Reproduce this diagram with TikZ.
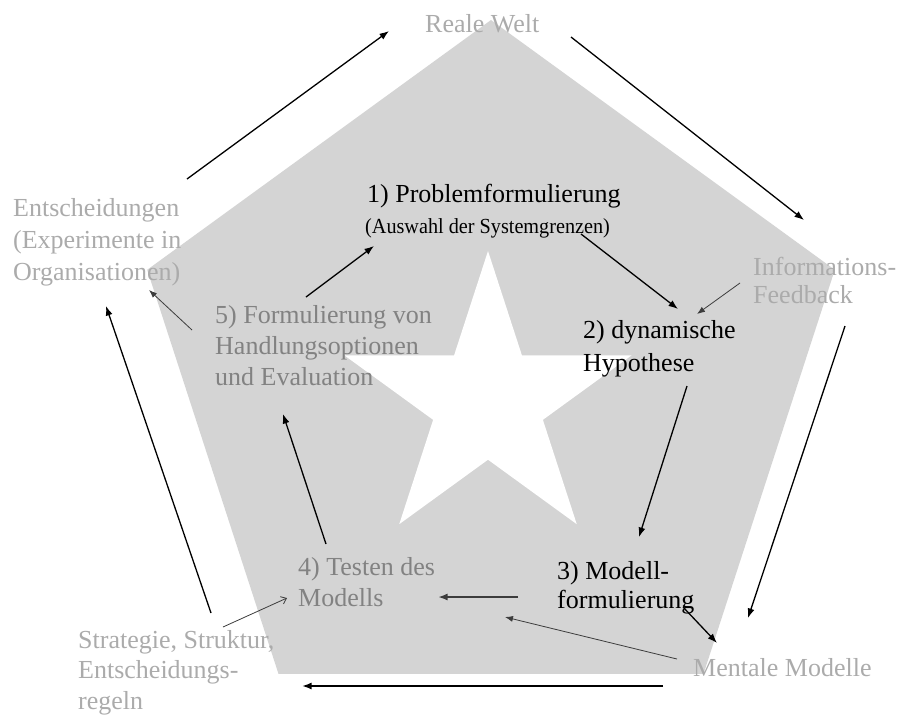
\documentclass[tikz,border=0pt]{standalone}
\usepackage{fontspec}
\setmainfont{Liberation Serif}
\usetikzlibrary{arrows.meta}
\definecolor{pentgray}{HTML}{D4D4D4}
\definecolor{midgray}{HTML}{828282}
\definecolor{lightgray}{HTML}{ABABAB}
\definecolor{thinline}{HTML}{3C3C3C}
\begin{document}
\begin{tikzpicture}[x=1pt,y=-1pt,
  % multi-line labels are placed by the baseline of their last line
  lbl/.style={inner sep=0pt, anchor=base west, align=left,
              font=\fontsize{26}{31}\selectfont},
  mid/.style={text=midgray},
  lgt/.style={text=lightgray},
  flow/.style={-{Latex[length=9.5pt,width=7pt]}, line width=1.3pt, black},
  thinflow/.style={-{Latex[length=8pt,width=6pt]}, line width=0.8pt, thinline},
  openflow/.style={-{Straight Barb[length=5pt,width=8pt]}, line width=0.8pt, thinline}
]
\useasboundingbox (0,0) rectangle (899,716);

% grey pentagon in the background
\begin{scope}[shift={(491,381.5)}]
  \fill[pentgray] (-90:361.5) -- (-18:361.5) -- (54:361.5) -- (126:361.5) -- (198:361.5) -- cycle;
\end{scope}

% white five-pointed star in the middle
\begin{scope}[shift={(488,402)}]
  \fill[white] (-90:151) -- (-54:57.7) -- (-18:151) -- (18:57.7) -- (54:151)
    -- (90:57.7) -- (126:151) -- (162:57.7) -- (198:151) -- (234:57.7) -- cycle;
\end{scope}

% labels
\node[lbl, lgt] (reale) at (425,32) {Reale Welt};
\node[lbl] (p1) at (367,202) {1) Problemformulierung};
\node[lbl, font=\fontsize{21.5}{24}\selectfont] (p1sub) at (365,233)
  {\scalebox{0.94}[1]{(Auswahl der Systemgrenzen)}};
\node[lbl, font=\fontsize{26}{33}\selectfont] (p2) at (583,371) {2) dynamische\\Hypothese};
\node[lbl, font=\fontsize{26}{29}\selectfont] (p3) at (557,608) {3) Modell-\\formulierung};
\node[lbl, mid] (p4) at (298,606) {4) Testen des\\Modells};
\node[lbl, mid] (p5) at (215,385) {5) Formulierung von\\Handlungsoptionen\\und Evaluation};
\node[lbl, lgt, font=\fontsize{26}{32}\selectfont] (ent) at (13,280) {Entscheidungen\\(Experimente in\\Organisationen)};
\node[lbl, lgt, font=\fontsize{26}{28}\selectfont] (info) at (753,303) {Informations-\\Feedback};
\node[lbl, lgt, font=\fontsize{26}{30.5}\selectfont] (strat) at (78,709) {Strategie, Struktur,\\Entscheidungs-\\regeln};
\node[lbl, lgt] (mental) at (693,676) {Mentale Modelle};

% arrow end points
\coordinate (ent-out)    at (187,179);
\coordinate (reale-in)   at (389,31);
\coordinate (reale-out)  at (571,37);
\coordinate (info-in)    at (804,220);
\coordinate (info-out)   at (845,326);
\coordinate (mental-in)  at (748,618);
\coordinate (mental-out) at (663,686);
\coordinate (strat-in)   at (302,686);
\coordinate (strat-out)  at (211,613);
\coordinate (ent-in)     at (106,306);
\coordinate (p1-out)     at (581,234);
\coordinate (p2-in)      at (678,309);
\coordinate (info-fb)    at (740,283);
\coordinate (p2-in2)     at (697,314);
\coordinate (p2-out)     at (687,386);
\coordinate (p3-in)      at (639,537);
\coordinate (p3-out)     at (518,597);
\coordinate (p4-in)      at (438,597);
\coordinate (p3-down)    at (683,607);
\coordinate (mental-top) at (717,643);
\coordinate (mental-fb)  at (677,659);
\coordinate (p4-in2)     at (505,617);
\coordinate (strat-fb)   at (223,627);
\coordinate (p4-in3)     at (287,598);
\coordinate (p4-out)     at (326,544);
\coordinate (p5-in)      at (283,414);
\coordinate (p5-out)     at (306,297);
\coordinate (p1-in)      at (374,246);
\coordinate (p5-fb)      at (192,330);
\coordinate (ent-in2)    at (149,290);

% outer loop
\draw[flow] (ent-out) -- (reale-in);
\draw[flow] (reale-out) -- (info-in);
\draw[flow] (info-out) -- (mental-in);
\draw[flow, line width=1.8pt] (mental-out) -- (strat-in);
\draw[flow] (strat-out) -- (ent-in);

% inner process
\draw[flow] (p1-out) -- (p2-in);
\draw[flow] (p2-out) -- (p3-in);
\draw[flow, line width=2.2pt, draw=thinline] (p3-out) -- (p4-in);
\draw[flow] (p4-out) -- (p5-in);
\draw[flow] (p5-out) -- (p1-in);
\draw[flow] (p3-down) -- (mental-top);

% links between inner and outer
\draw[thinflow] (info-fb) -- (p2-in2);
\draw[thinflow] (mental-fb) -- (p4-in2);
\draw[openflow] (strat-fb) -- (p4-in3);
\draw[thinflow] (p5-fb) -- (ent-in2);
\end{tikzpicture}
\end{document}
